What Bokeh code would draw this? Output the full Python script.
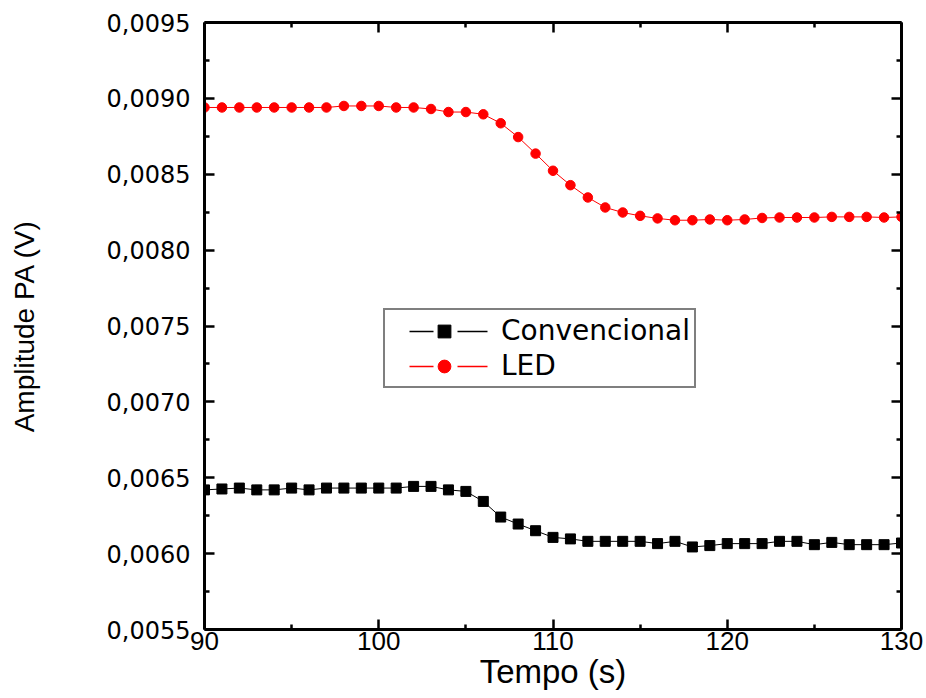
from bokeh.plotting import figure
from bokeh.models import (LinearAxis, Range1d, CustomJSTickFormatter, Legend,
                          LegendItem, FixedTicker)
from bokeh.embed import file_html
from bokeh.resources import INLINE

# ---- data ----
tempo = list(range(90, 131))
convencional = [0.00642, 0.006426, 0.006432, 0.00642, 0.00642, 0.006432, 0.00642,
                0.006432, 0.006432, 0.006432, 0.006432, 0.006432, 0.006443, 0.006443,
                0.00642, 0.00641, 0.006344, 0.006241, 0.006195, 0.006151, 0.006107,
                0.006097, 0.006081, 0.006081, 0.006081, 0.006081, 0.006066, 0.006081,
                0.006044, 0.006053, 0.006066, 0.006066, 0.006066, 0.006081, 0.006081,
                0.006059, 0.006074, 0.006059, 0.006059, 0.006059, 0.00607]
led = [0.00894, 0.00894, 0.00894, 0.00894, 0.00894, 0.00894, 0.00894, 0.00894,
       0.00895, 0.00895, 0.00895, 0.00894, 0.00894, 0.00893, 0.00891, 0.00891,
       0.008895, 0.008836, 0.008745, 0.008636, 0.008523, 0.008428, 0.008347,
       0.008281, 0.008248, 0.008226, 0.008209, 0.008197, 0.008197, 0.008202,
       0.008197, 0.008202, 0.008212, 0.008215, 0.008215, 0.008215, 0.008219,
       0.008219, 0.008219, 0.008215, 0.008219]

x_major = [90, 100, 110, 120, 130]
x_minor = [95, 105, 115, 125]
y_major = [0.0055, 0.0060, 0.0065, 0.0070, 0.0075, 0.0080, 0.0085, 0.0090, 0.0095]
y_minor = [0.00575, 0.00625, 0.00675, 0.00725, 0.00775, 0.00825, 0.00875, 0.00925]

series_labels = ["Convencional", "LED"]
x_label = "Tempo (s)"
y_label = "Amplitude PA (V)"

p = figure(width=926, height=698,
           x_range=Range1d(90, 130), y_range=Range1d(0.0055, 0.0095),
           output_backend="svg", toolbar_location=None,
           min_border_left=204, min_border_right=25,
           min_border_top=22, min_border_bottom=69)
p.xgrid.visible = False
p.ygrid.visible = False
p.outline_line_color = None
p.background_fill_color = "white"
p.border_fill_color = "white"

xt = FixedTicker(ticks=x_major, minor_ticks=x_minor)
yt = FixedTicker(ticks=y_major, minor_ticks=y_minor)

def style_axis(ax):
    ax.axis_line_width = 3
    ax.axis_line_color = "black"
    ax.major_tick_line_width = 2.5
    ax.minor_tick_line_width = 2.5
    ax.major_tick_line_color = "black"
    ax.minor_tick_line_color = "black"
    ax.major_tick_in = 10
    ax.major_tick_out = 0
    ax.minor_tick_in = 5
    ax.minor_tick_out = 0
    ax.major_label_text_color = "black"

xa = p.xaxis[0]
xa.ticker = xt
style_axis(xa)
xa.major_label_text_font = "Liberation Sans"
xa.major_label_text_font_size = "26px"
xa.major_label_standoff = 2
xa.axis_label = x_label
xa.axis_label_text_font = "Liberation Sans"
xa.axis_label_text_font_size = "33px"
xa.axis_label_text_font_style = "normal"
xa.axis_label_text_color = "black"
xa.axis_label_standoff = 0

ya = p.yaxis[0]
ya.ticker = yt
style_axis(ya)
ya.formatter = CustomJSTickFormatter(code="return tick.toFixed(4).replace('.', ',');")
ya.major_label_text_font = "DejaVu Sans"
ya.major_label_text_font_size = "24px"
ya.major_label_standoff = 14
ya.axis_label = y_label
ya.axis_label_text_font = "Liberation Sans"
ya.axis_label_text_font_size = "28px"
ya.axis_label_text_font_style = "normal"
ya.axis_label_text_color = "black"
ya.axis_label_standoff = 64

blank = CustomJSTickFormatter(code="return '';")
top = LinearAxis(ticker=xt, formatter=blank, major_label_standoff=0)
style_axis(top)
right = LinearAxis(ticker=yt, formatter=blank, major_label_standoff=0)
style_axis(right)
p.add_layout(top, "above")
p.add_layout(right, "right")

# data lines and markers
p.line(tempo, convencional, line_color="black", line_width=1)
p.line(tempo, led, line_color="red", line_width=1)
sq = p.scatter(tempo, convencional, marker="square", size=10,
               fill_color="black", line_color="black")
ci = p.scatter(tempo, led, marker="circle", size=9.5,
               fill_color="red", line_color="red")

# legend-only line glyphs (line with a gap around the symbol); NaN => nothing in the plot
nan = float("nan")
lk = p.line([nan], [nan], line_color="black", line_width=1.5, line_dash="0 20 24 24 30 300")
lr = p.line([nan], [nan], line_color="red", line_width=1.5, line_dash="0 20 24 24 30 300")

legend = Legend(items=[LegendItem(label=series_labels[0], renderers=[lk, sq]),
                       LegendItem(label=series_labels[1], renderers=[lr, ci])],
                location=(179, 241))
legend.border_line_color = "black"
legend.border_line_width = 2
legend.background_fill_color = "white"
legend.background_fill_alpha = 1
legend.padding = 4
legend.spacing = 2
legend.margin = 0
legend.label_height = 32
legend.glyph_height = 32
legend.glyph_width = 110
legend.label_standoff = 2
legend.label_text_font = "DejaVu Sans"
legend.label_text_font_size = "28px"
legend.label_text_color = "black"
p.add_layout(legend)

open("out.html", "w").write(file_html(p, INLINE))
